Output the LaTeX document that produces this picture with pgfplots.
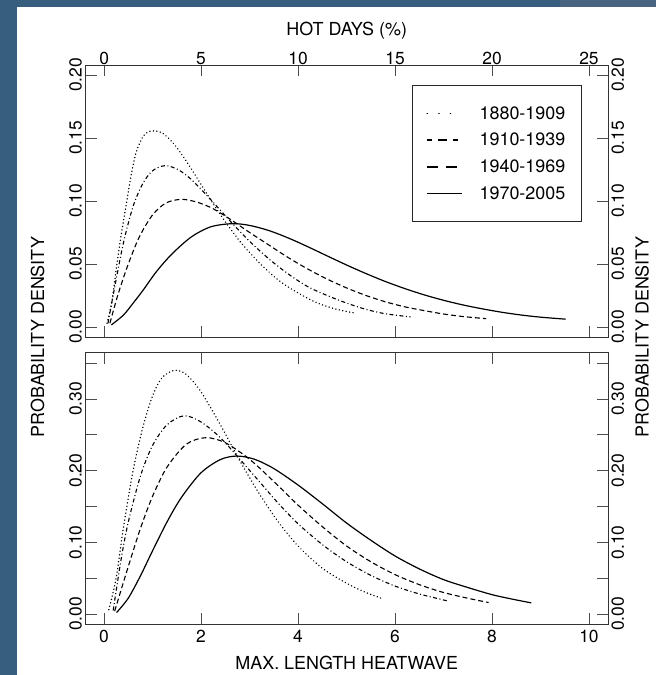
\documentclass[border=0pt]{standalone}
\usepackage{fontspec}
\setmainfont{TeX Gyre Heros}
\usepackage{pgfplots}
\pgfplotsset{compat=1.18}
\definecolor{bgblue}{RGB}{55,93,127}
\definecolor{bgtex}{RGB}{72,100,128}

\pgfplotsset{
  panel/.style={
    scale only axis, width=522.5bp, anchor=south west,
    tick align=inside, major tick length=11bp, minor tick length=11bp,
    axis line style={line width=0.9bp, black!80},
    tick style={line width=0.8bp, black!70},
    tick label style={font=\fontsize{17.5}{20}\selectfont},
    /pgf/number format/assume math mode=true,
    yticklabel style={rotate=90, anchor=south,
      /pgf/number format/fixed, /pgf/number format/fixed zerofill,
      /pgf/number format/precision=2},
    clip=false,
  },
  rightlabels/.style={
    scale only axis, width=522.5bp, anchor=south west,
    axis line style={draw=none}, tick style={draw=none},
    xtick=\empty, yticklabel pos=right,
    tick label style={font=\fontsize{17.5}{20}\selectfont},
    /pgf/number format/assume math mode=true,
    yticklabel style={rotate=90, anchor=north,
      /pgf/number format/fixed, /pgf/number format/fixed zerofill,
      /pgf/number format/precision=2},
  },
  p1/.style={line width=1.5bp, dash pattern=on 0.1bp off 3.4bp, line cap=round, black},
  p2/.style={line width=1.1bp, dash pattern=on 4bp off 2.5bp on 1bp off 2.5bp, black},
  p3/.style={line width=1.1bp, dash pattern=on 5bp off 3bp, black},
  p4/.style={line width=1.2bp, black},
}

\begin{document}
\begin{tikzpicture}
\useasboundingbox (0,0) rectangle (656bp,675bp);
\clip (0,0) rectangle (656bp,675bp);
\fill[bgblue] (0,0) rectangle (656bp,675bp);
\fill[white] (17bp,0) rectangle (656bp,668bp);
\fill[bgtex] (560bp,668bp) rectangle (656bp,675bp);

% upper panel: hot days
\begin{axis}[panel, at={(85.5bp,338bp)}, height=272bp,
  xmin=-0.96, xmax=25.98, ymin=-0.00794, ymax=0.2079,
  xtick={0,5,10,15,20,25}, xticklabel pos=upper, xtick pos=both,
  xticklabel style={anchor=south, yshift=-3bp},
  ytick={0,0.05,0.1,0.15,0.2}, ytick pos=both, yticklabel pos=left,
  legend style={draw=black!85, line width=0.8bp, fill=white,
    at={(0.9497,0.9265)}, anchor=north east,
    inner xsep=14bp, inner ysep=19bp, row sep=8.5bp,
    font=\fontsize{18}{20}\selectfont, nodes={inner sep=2bp},
    /tikz/every odd column/.append style={column sep=15bp}},
  legend cell align=left,
]
\addplot[p1, smooth, forget plot] coordinates {
  (0.15,0.003) (0.4,0.020) (0.65,0.049) (0.9,0.075) (1.15,0.098) (1.4,0.121)
  (1.66,0.139) (2.0,0.151) (2.3,0.155) (2.6,0.1556) (3.0,0.154) (3.5,0.147)
  (4.0,0.137) (4.6,0.123) (5.0,0.113) (6.0,0.089) (7.0,0.068) (8.0,0.051)
  (9.0,0.037) (10.0,0.027) (11.0,0.019) (12.0,0.014) (12.95,0.011)};
\addplot[p2, smooth, forget plot] coordinates {
  (0.2,0.003) (0.5,0.028) (1.0,0.067) (1.5,0.096) (2.0,0.114) (2.5,0.124)
  (3.13,0.128) (3.8,0.125) (4.5,0.117) (5.5,0.101) (6.5,0.084) (7.5,0.068)
  (8.5,0.054) (9.5,0.042) (10.5,0.032) (11.5,0.025) (12.5,0.019) (13.5,0.014)
  (14.5,0.0105) (15.8,0.008)};
\addplot[p3, smooth, forget plot] coordinates {
  (0.3,0.003) (0.7,0.025) (1.2,0.048) (1.8,0.071) (2.5,0.089) (3.2,0.0985)
  (4.0,0.1013) (4.8,0.099) (5.6,0.094) (6.5,0.0855) (7.5,0.075) (8.5,0.065)
  (9.5,0.055) (10.5,0.046) (11.5,0.038) (12.5,0.031) (13.5,0.025) (14.5,0.020)
  (15.5,0.016) (16.5,0.013) (17.5,0.0103) (18.5,0.0083) (19.7,0.0066)};
\addplot[p4, smooth, forget plot] coordinates {
  (0.37,0.0016) (1.0,0.0095) (1.5,0.019) (2.0,0.029) (2.7,0.044) (3.5,0.058)
  (4.5,0.0715) (5.5,0.0795) (6.6,0.082) (7.5,0.0806) (8.5,0.0765) (9.5,0.0706)
  (10.5,0.0637) (11.5,0.0564) (12.5,0.0492) (13.5,0.0424) (14.5,0.0361)
  (15.5,0.0305) (16.5,0.0255) (17.5,0.0212) (18.5,0.0175) (19.5,0.0144)
  (20.5,0.0117) (21.5,0.0095) (22.5,0.0078) (23.8,0.0062)};
\addlegendimage{legend image code/.code={\draw[line width=1.6bp, line cap=round, dash pattern=on 0.1bp off 11.5bp] (0.5bp,0bp) -- (35bp,0bp);}}
\addlegendentry{1880-1909}
\addlegendimage{legend image code/.code={\draw[line width=1.4bp, dash pattern=on 5bp off 6bp on 9bp off 6bp] (0bp,0bp) -- (35bp,0bp);}}
\addlegendentry{1910-1939}
\addlegendimage{legend image code/.code={\draw[line width=1.4bp, dash pattern=on 11bp off 8bp] (0bp,0bp) -- (35bp,0bp);}}
\addlegendentry{1940-1969}
\addlegendimage{legend image code/.code={\draw[line width=1.4bp] (0bp,0bp) -- (35bp,0bp);}}
\addlegendentry{1970-2005}
\end{axis}
\begin{axis}[rightlabels, at={(85.5bp,338bp)}, height=272bp,
  xmin=-0.96, xmax=25.98, ymin=-0.00794, ymax=0.2079,
  ytick={0,0.05,0.1,0.15,0.2}]
\end{axis}

% lower panel: max length of heatwave
\begin{axis}[panel, at={(85.5bp,51bp)}, height=271.3bp,
  xmin=-0.381, xmax=10.392, ymin=-0.01395, ymax=0.3646,
  xtick={0,2,4,6,8,10}, xtick pos=both, xticklabel pos=lower,
  xticklabel style={yshift=-3bp},
  ytick={0,0.1,0.2,0.3}, minor ytick={0.05,0.15,0.25,0.35},
  ytick pos=both, yticklabel pos=left,
]
\addplot[p1, smooth] coordinates {
  (0.1,0.006) (0.25,0.05) (0.4,0.12) (0.6,0.20) (0.8,0.26) (1.0,0.304)
  (1.2,0.330) (1.46,0.340) (1.7,0.334) (2.0,0.310) (2.4,0.264) (2.8,0.214)
  (3.2,0.168) (3.6,0.128) (4.0,0.095) (4.5,0.064) (5.0,0.043) (5.4,0.030)
  (5.76,0.021)};
\addplot[p2, smooth] coordinates {
  (0.19,0.005) (0.35,0.075) (0.5,0.128) (0.75,0.192) (1.0,0.235) (1.3,0.264)
  (1.65,0.2766) (2.0,0.268) (2.4,0.246) (2.8,0.216) (3.2,0.185) (3.6,0.154)
  (4.0,0.126) (4.5,0.097) (5.0,0.073) (5.5,0.054) (6.0,0.039) (6.5,0.028)
  (7.1,0.018)};
\addplot[p3, smooth] coordinates {
  (0.22,0.004) (0.5,0.066) (0.75,0.119) (1.0,0.164) (1.3,0.205) (1.7,0.237)
  (2.1,0.246) (2.5,0.239) (3.0,0.216) (3.5,0.185) (4.0,0.152) (4.5,0.122)
  (5.0,0.095) (5.5,0.073) (6.0,0.055) (6.5,0.041) (7.0,0.030) (7.5,0.022)
  (7.93,0.016)};
\addplot[p4, smooth] coordinates {
  (0.26,0.002) (0.5,0.022) (0.75,0.053) (1.0,0.088) (1.3,0.1285) (1.6,0.163)
  (2.0,0.197) (2.4,0.2155) (2.74,0.2204) (3.1,0.216) (3.5,0.203) (4.0,0.180)
  (4.5,0.154) (5.0,0.127) (5.5,0.103) (6.0,0.081) (6.5,0.063) (7.0,0.048)
  (7.5,0.037) (8.0,0.027) (8.4,0.021) (8.81,0.0155)};
\end{axis}
\begin{axis}[rightlabels, at={(85.5bp,51bp)}, height=271.3bp,
  xmin=-0.381, xmax=10.392, ymin=-0.01395, ymax=0.3646,
  ytick={0,0.1,0.2,0.3}]
\end{axis}

\node[font=\fontsize{18}{21}\selectfont] at (346.75bp,644.5bp) {HOT DAYS (\%)};
\node[font=\fontsize{18}{21}\selectfont] at (346.75bp,12.5bp) {MAX. LENGTH HEATWAVE};
\node[font=\fontsize{18}{21}\selectfont, rotate=90] at (37.5bp,338bp) {PROBABILITY DENSITY};
\node[font=\fontsize{18}{21}\selectfont, rotate=90] at (642bp,338bp) {PROBABILITY DENSITY};
\end{tikzpicture}
\end{document}
